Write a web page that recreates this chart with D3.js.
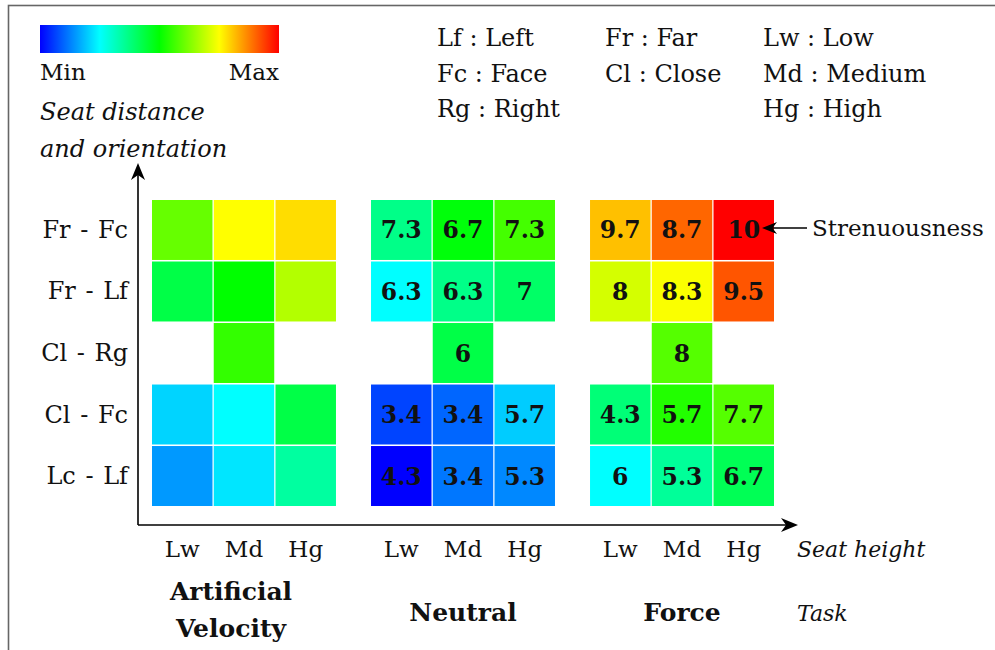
<!DOCTYPE html>
<html>
<head>
<meta charset="utf-8">
<script src="https://cdn.jsdelivr.net/npm/d3@7"></script>
<style>
  body { margin: 0; background: #fff; }
  svg text { font-family: 'DejaVu Serif', serif; fill: #111; }
</style>
</head>
<body>
<div id="container"></div>
<script>
// categories
const tasks = ['Artificial Velocity', 'Neutral', 'Force']
const heights = ['Lw', 'Md', 'Hg']
const positions = ['Fr - Fc', 'Fr - Lf', 'Cl - Rg', 'Cl - Fc', 'Lc - Lf']

// colour level of every cell (0 = Min, 1 = Max), rows = positions, cols = heights
const levelsVelocity = [
  [0.60, 0.75, 0.783],
  [0.43, 0.50, 0.675],
  [null, 0.55, null],
  [0.208, 0.25, 0.43],
  [0.15, 0.225, 0.343]
]
const levelsNeutral = [
  [0.367, 0.49, 0.567],
  [0.25, 0.367, 0.40],
  [null, 0.43, null],
  [0.067, 0.10, 0.20],
  [0.0, 0.117, 0.133]
]
const levelsForce = [
  [0.812, 0.90, 1.0],
  [0.708, 0.745, 0.917],
  [null, 0.583, null],
  [0.383, 0.533, 0.583],
  [0.25, 0.35, 0.417]
]

// numbers printed in the cells
const labelsVelocity = [
  [null, null, null],
  [null, null, null],
  [null, null, null],
  [null, null, null],
  [null, null, null]
]
const labelsNeutral = [
  ['7.3', '6.7', '7.3'],
  ['6.3', '6.3', '7'],
  [null, '6', null],
  ['3.4', '3.4', '5.7'],
  ['4.3', '3.4', '5.3']
]
const labelsForce = [
  ['9.7', '8.7', '10'],
  ['8', '8.3', '9.5'],
  [null, '8', null],
  ['4.3', '5.7', '7.7'],
  ['6', '5.3', '6.7']
]

const abbreviations = [
  ['Lf : Left', 'Fc : Face', 'Rg : Right'],
  ['Fr : Far', 'Cl : Close'],
  ['Lw : Low', 'Md : Medium', 'Hg : High']
]

const levels = [levelsVelocity, levelsNeutral, levelsForce]
const labels = [labelsVelocity, labelsNeutral, labelsForce]

const w = 995
const h = 650

const svg = d3.select('#container')
  .append('svg')
  .attr('width', w)
  .attr('height', h)

//frame (only top and left edges are in view)
svg.append('rect')
  .attr('x', 8.5)
  .attr('y', 5.5)
  .attr('width', 1200)
  .attr('height', 900)
  .attr('fill', 'none')
  .attr('stroke', '#666')
  .attr('stroke-width', 1.6)

// colour map
const colorStops = [0, 0.25, 0.5, 0.75, 1]
const color = d3.scaleLinear()
  .domain(colorStops)
  .range(['#0000ff', '#00ffff', '#00ff00', '#ffff00', '#ff0000'])

// scales
const xGroup = d3.scaleBand()
  .domain(tasks)
  .range([152, 774])
  .paddingInner(0.16)

const xCol = d3.scaleBand()
  .domain(heights)
  .range([0, xGroup.bandwidth()])
  .paddingInner(0.02)

const y = d3.scaleBand()
  .domain(positions)
  .range([200, 506])
  .paddingInner(0.025)

// cells
const cells = []
tasks.forEach((t, g) => {
  positions.forEach((p, r) => {
    heights.forEach((hg, c) => {
      const v = levels[g][r][c]
      if (v !== null) {
        cells.push({ task: t, pos: p, height: hg, level: v, label: labels[g][r][c] })
      }
    })
  })
})

const cellG = svg.append('g')

cellG.selectAll('rect')
  .data(cells)
  .enter()
  .append('rect')
  .attr('x', d => xGroup(d.task) + xCol(d.height))
  .attr('y', d => y(d.pos))
  .attr('width', xCol.bandwidth())
  .attr('height', y.bandwidth())
  .attr('fill', d => color(d.level))

cellG.selectAll('text')
  .data(cells.filter(d => d.label))
  .enter()
  .append('text')
  .attr('x', d => xGroup(d.task) + xCol(d.height) + xCol.bandwidth() / 2)
  .attr('y', d => y(d.pos) + y.bandwidth() / 2 + 8.5)
  .attr('text-anchor', 'middle')
  .attr('font-size', 23.5)
  .attr('font-weight', 'bold')
  .text(d => d.label)

// axes with arrow heads
const axisX = xGroup.range()[0] - 14
const axisY = y.range()[1] + 19
const xEnd = 798
const yEnd = 163

const arrowHead = (len, half, notch) =>
  `M0,0 L${-len},${-half} L${-len + notch},0 L${-len},${half} Z`

svg.append('line')
  .attr('x1', axisX).attr('y1', axisY)
  .attr('x2', xEnd - 8).attr('y2', axisY)
  .attr('stroke', '#000').attr('stroke-width', 1.6)

svg.append('line')
  .attr('x1', axisX).attr('y1', axisY)
  .attr('x2', axisX).attr('y2', yEnd + 8)
  .attr('stroke', '#000').attr('stroke-width', 1.6)

svg.append('path')
  .attr('d', arrowHead(17, 7, 5))
  .attr('transform', `translate(${xEnd},${axisY})`)
  .attr('fill', '#000')

svg.append('path')
  .attr('d', arrowHead(17, 7, 5))
  .attr('transform', `translate(${axisX},${yEnd}) rotate(-90)`)
  .attr('fill', '#000')

// row labels
svg.append('g')
  .selectAll('text')
  .data(positions)
  .enter()
  .append('text')
  .attr('x', 128)
  .attr('y', d => y(d) + y.bandwidth() / 2 + 8)
  .attr('text-anchor', 'end')
  .attr('font-size', 24)
  .attr('word-spacing', 2)
  .text(d => d)

// column labels
tasks.forEach(t => {
  svg.append('g')
    .selectAll('text')
    .data(heights)
    .enter()
    .append('text')
    .attr('x', d => xGroup(t) + xCol(d) + xCol.bandwidth() / 2)
    .attr('y', 557)
    .attr('text-anchor', 'middle')
    .attr('font-size', 23)
    .text(d => d)
})

// task labels
tasks.forEach((t, i) => {
  const cx = xGroup(t) + xGroup.bandwidth() / 2 - (i === 0 ? 13 : 0)
  const words = i === 0 ? t.split(' ') : [t]
  words.forEach((word, k) => {
    svg.append('text')
      .attr('x', cx)
      .attr('y', words.length > 1 ? 600 + k * 37 : 621)
      .attr('text-anchor', 'middle')
      .attr('font-size', 25)
      .attr('font-weight', 'bold')
      .text(word)
  })
})

// axis titles
svg.append('text')
  .attr('x', 797).attr('y', 557)
  .attr('font-size', 22).attr('font-style', 'italic')
  .text('Seat height')

svg.append('text')
  .attr('x', 797).attr('y', 621)
  .attr('font-size', 22).attr('font-style', 'italic')
  .text('Task')

svg.append('text')
  .attr('x', 40).attr('y', 120)
  .attr('font-size', 24).attr('font-style', 'italic')
  .text('Seat distance')

svg.append('text')
  .attr('x', 40).attr('y', 157)
  .attr('font-size', 24).attr('font-style', 'italic')
  .text('and orientation')

// colour bar
const grad = svg.append('defs')
  .append('linearGradient')
  .attr('id', 'jet')

grad.selectAll('stop')
  .data(colorStops)
  .enter()
  .append('stop')
  .attr('offset', d => d * 100 + '%')
  .attr('stop-color', d => color(d))

svg.append('rect')
  .attr('x', 40)
  .attr('y', 25)
  .attr('width', 239)
  .attr('height', 28)
  .attr('fill', 'url(#jet)')

svg.append('text')
  .attr('x', 40).attr('y', 80)
  .attr('font-size', 23)
  .text('Min')

svg.append('text')
  .attr('x', 279).attr('y', 80)
  .attr('text-anchor', 'end')
  .attr('font-size', 23)
  .text('Max')

// abbreviations
const abbrX = [437, 605, 763]
abbreviations.forEach((col, i) => {
  svg.append('g')
    .selectAll('text')
    .data(col)
    .enter()
    .append('text')
    .attr('x', abbrX[i])
    .attr('y', (d, k) => 46 + k * 35.5)
    .attr('font-size', 24)
    .text(d => d)
})

// annotation
const peak = cells.find(d => d.task === 'Force' && d.pos === 'Fr - Fc' && d.height === 'Hg')
const tipX = xGroup(peak.task) + xCol(peak.height) + xCol.bandwidth() - 12
const tipY = y(peak.pos) + y.bandwidth() / 2 - 2

svg.append('line')
  .attr('x1', tipX + 8).attr('y1', tipY)
  .attr('x2', 807).attr('y2', tipY)
  .attr('stroke', '#000').attr('stroke-width', 1.4)

svg.append('path')
  .attr('d', arrowHead(15, 6, 4.5))
  .attr('transform', `translate(${tipX},${tipY}) rotate(180)`)
  .attr('fill', '#000')

svg.append('text')
  .attr('x', 812).attr('y', tipY + 8)
  .attr('font-size', 23)
  .text('Strenuousness')
</script>
</body>
</html>
